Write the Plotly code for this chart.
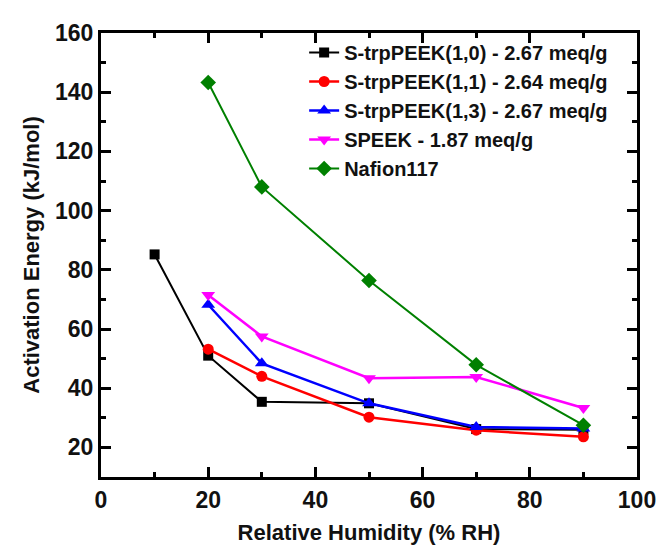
import plotly.graph_objects as go

rh = [10, 20, 30, 50, 70, 90]
rh5 = [20, 30, 50, 70, 90]

s10 = [85.2, 51.0, 35.4, 34.9, 26.2, 26.0]
s11 = [53.2, 44.0, 30.2, 25.8, 23.6]
s13 = [68.2, 48.4, 34.9, 26.9, 26.4]
speek = [71.5, 57.5, 43.4, 43.8, 33.3]
nafion = [143.3, 108.0, 76.4, 47.9, 27.5]

names = ["S-trpPEEK(1,0) - 2.67 meq/g", "S-trpPEEK(1,1) - 2.64 meq/g",
         "S-trpPEEK(1,3) - 2.67 meq/g", "SPEEK - 1.87 meq/g", "Nafion117"]

FONT = "Arial, Liberation Sans, sans-serif"

fig = go.Figure()
series = [
    (rh, s10, names[0], "#000000", "square", 10, 2),
    (rh5, s11, names[1], "#FF0000", "circle", 11, 2.5),
    (rh5, s13, names[2], "#0000FF", "triangle-up", 12, 2.5),
    (rh5, speek, names[3], "#FF00FF", "triangle-down", 12, 2.5),
    (rh5, nafion, names[4], "#008000", "diamond", 12, 2),
]
for x, y, n, c, sym, ms, lw in series:
    fig.add_trace(go.Scatter(x=x, y=y, name=n, mode="lines+markers",
                             line=dict(color=c, width=lw),
                             marker=dict(symbol=sym, size=ms, color=c)))

tickfont = dict(family=FONT, size=23, color="#111", weight="bold")
titlefont = dict(family=FONT, size=22, color="#111", weight="bold")

fig.update_xaxes(range=[0, 100], dtick=20,
                 showline=True, linecolor="black", linewidth=3, mirror="ticks",
                 ticks="inside", ticklen=10, tickwidth=3, tickcolor="black",
                 minor=dict(ticks="inside", ticklen=5, tickwidth=3, tickcolor="black", dtick=10),
                 showgrid=False,
                 tickfont=tickfont,
                 title=dict(text="Relative Humidity (% RH)", standoff=14, font=titlefont))
fig.update_yaxes(range=[10, 160], dtick=20,
                 showline=True, linecolor="black", linewidth=3, mirror="ticks",
                 ticks="inside", ticklen=10, tickwidth=3, tickcolor="black",
                 minor=dict(ticks="inside", ticklen=5, tickwidth=3, tickcolor="black", dtick=10),
                 showgrid=False,
                 tickfont=tickfont,
                 title=dict(text="Activation Energy (kJ/mol)", standoff=10, font=titlefont))

fig.update_layout(
    width=660, height=546,
    margin=dict(l=93, r=21, t=15, b=76),
    plot_bgcolor="white", paper_bgcolor="white",
    showlegend=True,
    legend=dict(x=0.379, y=1.0, xanchor="left", yanchor="top",
                bgcolor="rgba(0,0,0,0)", borderwidth=0,
                font=dict(family=FONT, size=20, color="#111", weight="bold"),
                tracegroupgap=0),
)

fig.write_html("out.html")
